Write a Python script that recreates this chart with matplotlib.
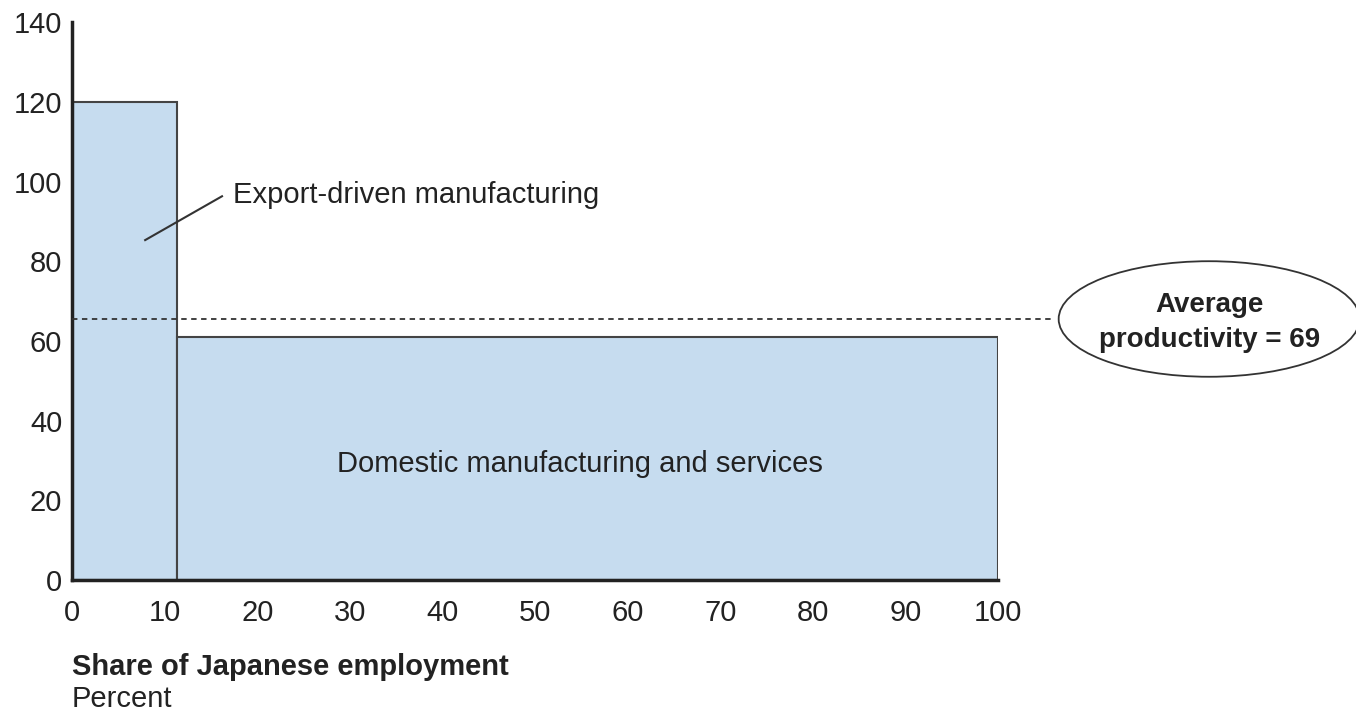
import matplotlib
matplotlib.use("Agg")
import matplotlib.pyplot as plt
from matplotlib.patches import Ellipse

# data
segments = ["Export-driven manufacturing", "Domestic manufacturing and services"]
share_start = [0, 11.3]
share_width = [11.3, 88.7]
productivity = [120, 61]
avg_line = 65.5
avg_label = "Average\nproductivity = 69"
x_ticks = [0, 10, 20, 30, 40, 50, 60, 70, 80, 90, 100]
y_ticks = [0, 20, 40, 60, 80, 100, 120, 140]

plt.rcParams["font.family"] = ["Liberation Sans", "DejaVu Sans"]
FS = 21

fig = plt.figure(figsize=(13.56, 7.14), dpi=100)
ax = fig.add_axes([0.0531, 0.1877, 0.6829, 0.7813])

ax.bar(share_start, productivity, width=share_width, align="edge",
       color="#c6dcef", edgecolor="#444444", linewidth=1.5, zorder=2)

# dashed average line, runs out past the axes to the ellipse
ax.plot([0, 106.2], [avg_line, avg_line], ls=(0, (3, 2.5)), color="#333333",
        lw=1.3, clip_on=False, zorder=3)
ell = Ellipse((122.8, avg_line), width=32.5, height=29, facecolor="white",
              edgecolor="#333333", lw=1.3, clip_on=False, zorder=4)
ax.add_patch(ell)
ax.text(122.8, avg_line - 0.8, avg_label, ha="center", va="center", fontsize=20,
        fontweight="bold", linespacing=1.45, color="#222222", zorder=5)

# labels
ax.plot([7.9, 16.2], [85.3, 96.3], color="#333333", lw=1.5, zorder=3)
ax.text(17.4, 96.5, segments[0], ha="left", va="center", fontsize=FS,
        color="#222222")
ax.text(54.8, 29, segments[1], ha="center", va="center", fontsize=FS,
        color="#222222")

ax.set_xlim(0, 100)
ax.set_ylim(0, 140)
ax.set_xticks(x_ticks)
ax.set_yticks(y_ticks)
ax.tick_params(length=0, labelsize=FS, labelcolor="#222222")
ax.tick_params(axis="x", pad=14)
ax.tick_params(axis="y", pad=7)
for side in ["top", "right"]:
    ax.spines[side].set_visible(False)
for side in ["left", "bottom"]:
    ax.spines[side].set_linewidth(2.5)
    ax.spines[side].set_color("#222222")
ax.spines["bottom"].set_bounds(0, 100)

fig.text(72 / 1356, 1 - 667 / 714, "Share of Japanese employment",
         fontsize=FS, fontweight="bold", color="#222222", va="center")
fig.text(72 / 1356, 1 - 699 / 714, "Percent", fontsize=FS,
         color="#222222", va="center")

fig.savefig("out.png", dpi=100)
